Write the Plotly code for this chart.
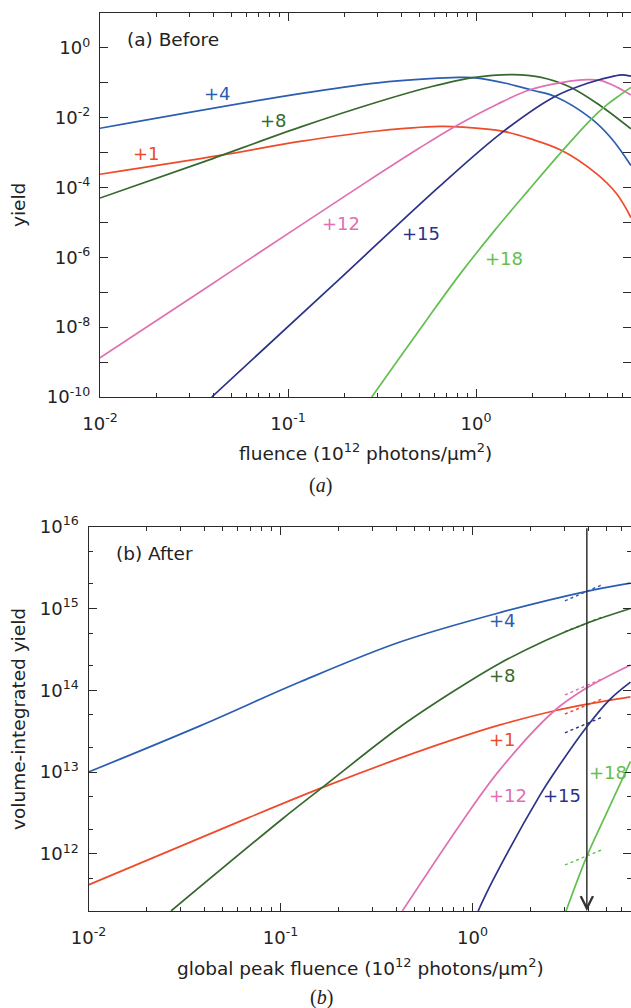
import numpy as np
import plotly.graph_objects as go

# ---------------- data: panel (a) Before : yield vs fluence ----------------
a_p1_x = [0.01, 0.0435, 0.116, 0.3, 0.644, 0.855, 1.40, 1.94, 2.86, 4.39, 5.6, 6.67]
a_p1_y = [2.40e-4, 8.3e-4, 2.09e-3, 4.17e-3, 5.62e-3, 5.37e-3, 4.07e-3, 2.51e-3, 1.15e-3, 2.45e-4, 6.6e-5, 1.38e-5]

a_p4_x = [0.01, 0.116, 0.3, 0.569, 0.8, 0.968, 1.46, 2.02, 2.63, 4.12, 5.27, 6.67]
a_p4_y = [5.0e-3, 0.049, 0.100, 0.132, 0.143, 0.141, 0.0955, 0.0603, 0.0407, 9.3e-3, 2.51e-3, 4.27e-4]

a_p8_x = [0.01, 0.034, 0.116, 0.321, 0.569, 0.968, 1.58, 2.19, 3.16, 4.57, 6.67]
a_p8_y = [5.0e-5, 5.0e-4, 5.37e-3, 0.0316, 0.0759, 0.141, 0.172, 0.145, 0.0759, 0.0224, 4.79e-3]

a_p12_x = [0.01, 0.034, 0.116, 0.262, 0.5, 0.757, 1.29, 1.94, 3.16, 3.9, 4.57, 5.6, 6.67]
a_p12_y = [1.32e-9, 1.02e-7, 8.13e-6, 1.45e-4, 1.35e-3, 5.25e-3, 0.0240, 0.0631, 0.112, 0.123, 0.117, 0.0759, 0.0447]

a_p15_x = [0.0393, 0.174, 0.644, 1.40, 2.63, 3.88, 5.49, 5.96, 6.67]
a_p15_y = [1.0e-10, 1.62e-7, 1.12e-4, 4.07e-3, 0.0407, 0.0955, 0.158, 0.168, 0.155]

a_p18_x = [0.279, 0.4, 0.55, 0.822, 1.26, 1.9, 2.91, 4.12, 5.0, 5.6, 6.67]
a_p18_y = [1.0e-10, 1.55e-9, 1.70e-8, 3.31e-7, 6.03e-6, 8.32e-5, 1.20e-3, 9.33e-3, 0.024, 0.038, 0.0741]

# ---------------- data: panel (b) After : volume-integrated yield ----------------
b_p1_x = [0.01, 0.064, 0.161, 0.419, 0.8, 1.39, 2.67, 3.94, 6.65]
b_p1_y = [4.17e11, 2.60e12, 6.31e12, 1.48e13, 2.51e13, 3.77e13, 5.62e13, 6.76e13, 8.32e13]

b_p4_x = [0.01, 0.0381, 0.126, 0.419, 1.39, 3.94, 6.65]
b_p4_y = [1.0e13, 3.67e13, 1.26e14, 3.89e14, 8.91e14, 1.62e15, 2.04e15]

b_p8_x = [0.0269, 0.1014, 0.161, 0.419, 0.8, 1.39, 2.4, 3.94, 6.65]
b_p8_y = [2.0e11, 2.63e12, 6.17e12, 3.55e13, 9.77e13, 2.14e14, 4.07e14, 6.61e14, 1.0e15]

b_p12_x = [0.431, 0.895, 1.39, 2.67, 3.94, 6.65]
b_p12_y = [2.0e11, 2.60e12, 1.07e13, 5.62e13, 1.07e14, 2.04e14]

b_p15_x = [1.07, 1.28, 2.25, 2.63, 3.94, 5.2, 6.65]
b_p15_y = [2.0e11, 4.79e11, 5.25e12, 9.33e12, 3.59e13, 7.76e13, 1.26e14]

b_p18_x = [3.07, 3.94, 5.0, 6.65]
b_p18_y = [2.0e11, 9.33e11, 3.16e12, 1.35e13]

# short dashed segments near the marked fluence
dash_x = [3.03, 4.80]
dash_p4 = [1.24e15, 1.98e15]
dash_p8 = [5.20e14, 7.94e14]
dash_p12 = [8.77e13, 1.40e14]
dash_p1 = [5.13e13, 7.94e13]
dash_p15 = [3.02e13, 4.75e13]
dash_p18 = [7.31e11, 1.14e12]

marked_fluence = 3.94

# series labels (text, x, y)
labels_a = [("+4", 0.042, 0.049), ("+8", 0.0838, 8.3e-3), ("+1", 0.0177, 9.5e-4),
            ("+12", 0.192, 9.5e-6), ("+15", 0.507, 4.7e-6), ("+18", 1.41, 9.5e-7)]
labels_b = [("+4", 1.43, 7.1e14), ("+8", 1.43, 1.5e14), ("+1", 1.43, 2.5e13),
            ("+12", 1.53, 5.1e12), ("+15", 2.94, 5.1e12), ("+18", 5.1, 9.8e12)]

# ticks
x_major = [0.01, 0.1, 1]
x_major_text = ["10<sup>-2</sup>", "10<sup>-1</sup>", "10<sup>0</sup>"]
x_minor = [m * 10.0 ** k for k in (-2, -1, 0) for m in range(2, 10)]
a_y_major = [10.0 ** k for k in range(-10, 2)]
a_y_text = ["10<sup>%d</sup>" % k if k % 2 == 0 and k <= 0 else "" for k in range(-10, 2)]
b_y_major = [10.0 ** k for k in range(12, 17)]
b_y_text = ["10<sup>%d</sup>" % k for k in range(12, 17)]
b_y_minor = [m * 10.0 ** k for k in (11, 12, 13, 14, 15) for m in (2, 5)]

COL = {"+1": "#ee4b2b", "+4": "#2b5db0", "+8": "#37692f",
       "+12": "#e070b3", "+15": "#2c3286", "+18": "#63bf4e"}

W, H = 631, 1008
FONT = "DejaVu Sans"
AX = "#2a2a2a"

fig = go.Figure()

def line(x, y, col, xa, ya, dash=None, width=1.7):
    fig.add_trace(go.Scatter(x=x, y=y, mode="lines", xaxis=xa, yaxis=ya,
                             line=dict(color=col, width=width, shape="spline", smoothing=1.0,
                                       dash=dash), showlegend=False, hoverinfo="skip"))

for name, xs, ys in [("+1", a_p1_x, a_p1_y), ("+4", a_p4_x, a_p4_y), ("+8", a_p8_x, a_p8_y),
                     ("+12", a_p12_x, a_p12_y), ("+15", a_p15_x, a_p15_y), ("+18", a_p18_x, a_p18_y)]:
    line(xs, ys, COL[name], "x", "y")

for name, xs, ys in [("+1", b_p1_x, b_p1_y), ("+4", b_p4_x, b_p4_y), ("+8", b_p8_x, b_p8_y),
                     ("+12", b_p12_x, b_p12_y), ("+15", b_p15_x, b_p15_y), ("+18", b_p18_x, b_p18_y)]:
    line(xs, ys, COL[name], "x2", "y2")

for name, ys in [("+4", dash_p4), ("+8", dash_p8), ("+12", dash_p12), ("+1", dash_p1),
                 ("+15", dash_p15), ("+18", dash_p18)]:
    fig.add_trace(go.Scatter(x=dash_x, y=ys, mode="lines", xaxis="x2", yaxis="y2",
                             line=dict(color=COL[name], width=1.4, dash="3px,3px"),
                             showlegend=False, hoverinfo="skip"))

# empty traces so overlay (mirror) axes render
for xa, ya in [("x3", "y3"), ("x4", "y4")]:
    fig.add_trace(go.Scatter(x=[None], y=[None], xaxis=xa, yaxis=ya, showlegend=False,
                             hoverinfo="skip"))

a_top, a_bot = 13, 397
b_top, b_bot = 526.7, 911
a_left, b_left = 100, 88.5
xr_a = [-2, -2 + (W - a_left) / 188.0]
xr_b = [-2, -2 + (W - b_left) / 192.0]

tickfont = dict(family=FONT, size=18, color="#222")

def xax(rng, dom, anchor, labels=True, side="bottom", overlay=None, line_on=True):
    d = dict(type="log", range=rng, domain=dom, anchor=anchor, side=side,
             showline=line_on, linecolor=AX, linewidth=1.3, ticks="inside", ticklen=8,
             tickwidth=1.1, tickcolor=AX, tickvals=x_major, ticktext=x_major_text,
             showticklabels=labels, tickfont=tickfont, ticklabelstandoff=10,
             minor=dict(ticks="inside", ticklen=4, tickwidth=1, tickcolor=AX, tickvals=x_minor),
             showgrid=False, zeroline=False, fixedrange=True, automargin=False)
    if overlay:
        d["overlaying"] = overlay
    return d

def yax(rng, dom, anchor, tv, tt, minor=None, labels=True, side="left", overlay=None,
        line_on=True):
    d = dict(type="log", range=rng, domain=dom, anchor=anchor, side=side,
             showline=line_on, linecolor=AX, linewidth=1.3, ticks="inside", ticklen=8,
             tickwidth=1.1, tickcolor=AX, tickvals=tv, ticktext=tt,
             showticklabels=labels, tickfont=tickfont, ticklabelstandoff=5,
             showgrid=False, zeroline=False, fixedrange=True, automargin=False)
    if minor:
        d["minor"] = dict(ticks="inside", ticklen=4, tickwidth=1, tickcolor=AX, tickvals=minor)
    if overlay:
        d["overlaying"] = overlay
    return d

dom_xa = [a_left / W, 1]
dom_xb = [b_left / W, 1]
dom_ya = [1 - a_bot / H, 1 - a_top / H]
dom_yb = [1 - b_bot / H, 1 - b_top / H]
yr_a = [-10, 1]
yr_b = [np.log10(2e11), 16]

fig.update_layout(
    width=W, height=H, margin=dict(l=0, r=0, t=0, b=0, pad=0), autosize=False,
    paper_bgcolor="white", plot_bgcolor="white", showlegend=False,
    xaxis=xax(xr_a, dom_xa, "y"),
    yaxis=yax(yr_a, dom_ya, "x", a_y_major, a_y_text),
    xaxis2=xax(xr_b, dom_xb, "y2"),
    yaxis2=yax(yr_b, dom_yb, "x2", b_y_major, b_y_text, minor=b_y_minor),
    xaxis3=xax(xr_a, dom_xa, "y3", labels=False, side="top", overlay="x"),
    yaxis3=yax(yr_a, dom_ya, "x3", a_y_major, a_y_text, labels=False, side="right",
               overlay="y", line_on=False),
    xaxis4=xax(xr_b, dom_xb, "y4", labels=False, side="top", overlay="x2"),
    yaxis4=yax(yr_b, dom_yb, "x4", b_y_major, b_y_text, minor=b_y_minor, labels=False,
               side="right", overlay="y2", line_on=False),
)

ann = []
for t, x, y in labels_a:
    ann.append(dict(text=t, x=np.log10(x), y=np.log10(y), xref="x", yref="y", showarrow=False,
                    font=dict(family=FONT, size=18, color=COL[t])))
for t, x, y in labels_b:
    ann.append(dict(text=t, x=np.log10(x), y=np.log10(y), xref="x2", yref="y2", showarrow=False,
                    font=dict(family=FONT, size=18, color=COL[t])))

def pann(text, px, py, size=18.5, family=FONT, angle=0, xanchor="center"):
    ann.append(dict(text=text, x=px / W, y=1 - py / H, xref="paper", yref="paper",
                    showarrow=False, textangle=angle, xanchor=xanchor, yanchor="middle",
                    font=dict(family=family, size=size, color="#222")))

pann("(a) Before", 125, 40, xanchor="left")
pann("(b) After", 114, 553, xanchor="left")
pann("yield", 19, 205, angle=-90)
pann("volume-integrated yield", 18, 719, angle=-90)
pann("fluence (10<sup>12</sup> photons/μm<sup>2</sup>)", 365, 452)
pann("global peak fluence (10<sup>12</sup> photons/μm<sup>2</sup>)", 360, 967)
pann("(<i>a</i>)", 320, 485, size=20, family="Liberation Serif")
pann("(<i>b</i>)", 321, 997, size=20, family="Liberation Serif")

# vertical arrow at the marked fluence
ann.append(dict(x=np.log10(marked_fluence), y=yr_b[0], ax=np.log10(marked_fluence), ay=yr_b[1],
                xref="x2", yref="y2", axref="x2", ayref="y2", text="", showarrow=True,
                arrowhead=5, arrowsize=1.6, arrowwidth=1.5, arrowcolor="#333", standoff=0))

fig.update_layout(annotations=ann)

post = ("document.documentElement.style.margin='0px';"
        "document.documentElement.style.padding='0px';"
        "document.body.style.margin='0px';document.body.style.padding='0px';"
        "document.body.style.overflow='hidden';")
fig.write_html("out.html", include_plotlyjs=True, post_script=post)
